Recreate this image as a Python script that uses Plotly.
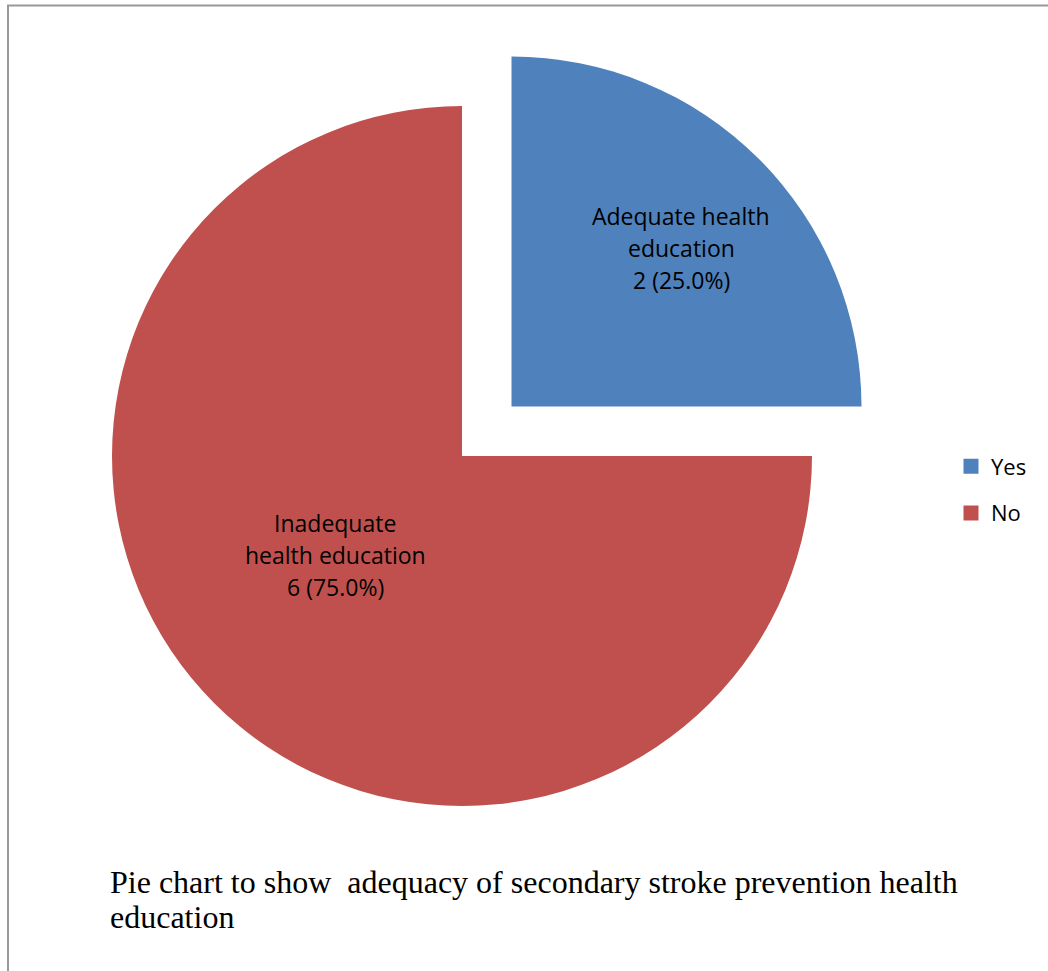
import plotly.graph_objects as go

# Survey responses on secondary stroke prevention health education
categories = ["Yes", "No"]
slice_names = [["Adequate health", "education"], ["Inadequate", "health education"]]
counts = [2, 6]
colors = ["#4F81BD", "#C0504D"]
pulls = [0.2, 0.0]

W, H = 1048, 971
total = sum(counts)

# label block centres (pixels) and line pitch for the in-slice labels
label_centres = [(681, 248), (335, 555)]
line_pitch = 32
label_font = dict(family="Open Sans", size=23, color="black")

fig = go.Figure()

fig.add_trace(go.Pie(
    labels=categories,
    values=counts,
    textinfo="none",
    marker=dict(colors=colors, line=dict(width=0)),
    pull=pulls,
    sort=False,
    direction="clockwise",
    rotation=0,
    showlegend=False,
    hoverinfo="label+value+percent",
    domain=dict(x=[42 / W, 882 / W], y=[1 - 876 / H, 1 - 36 / H]),
))

# Legend entries (square swatches, one group per category)
for cat, col in zip(categories, colors):
    fig.add_trace(go.Scatter(
        x=[None], y=[None], mode="markers", name=cat,
        legendgroup=cat,
        marker=dict(symbol="square", size=15, color=col),
        hoverinfo="skip",
    ))

annotations = []
for names, c, (cx, cy) in zip(slice_names, counts, label_centres):
    lines = names + [f"{c} ({c / total * 100:.1f}%)"]
    n = len(lines)
    for i, line in enumerate(lines):
        py = cy + (i - (n - 1) / 2) * line_pitch
        annotations.append(dict(
            text=line, x=cx / W, y=1 - py / H, xref="paper", yref="paper",
            xanchor="center", yanchor="middle", showarrow=False,
            font=label_font,
        ))

# caption below the pie, one annotation per line
caption_lines = ["Pie chart to show  adequacy of secondary stroke prevention health", "education"]
for i, line in enumerate(caption_lines):
    annotations.append(dict(
        text=line, x=108 / W, y=1 - (862 + 35 * i) / H, xref="paper", yref="paper",
        xanchor="left", yanchor="top", align="left", showarrow=False,
        font=dict(family="Liberation Serif", size=32, color="black"),
    ))

fig.update_layout(
    width=W, height=H,
    margin=dict(l=0, r=0, t=0, b=0),
    paper_bgcolor="white",
    plot_bgcolor="white",
    xaxis=dict(visible=False),
    yaxis=dict(visible=False),
    showlegend=True,
    legend=dict(
        x=951 / W, y=1 - 490 / H, xanchor="left", yanchor="middle",
        font=dict(family="Open Sans", size=22, color="black"),
        tracegroupgap=15,
        itemwidth=30,
        bgcolor="rgba(0,0,0,0)",
    ),
    annotations=annotations,
    shapes=[dict(
        type="rect", xref="paper", yref="paper",
        x0=8 / W, x1=1.02, y0=-0.02, y1=1 - 5.5 / H,
        line=dict(color="#999999", width=2),
        fillcolor="rgba(0,0,0,0)",
    )],
)

fig.write_html("out.html")
